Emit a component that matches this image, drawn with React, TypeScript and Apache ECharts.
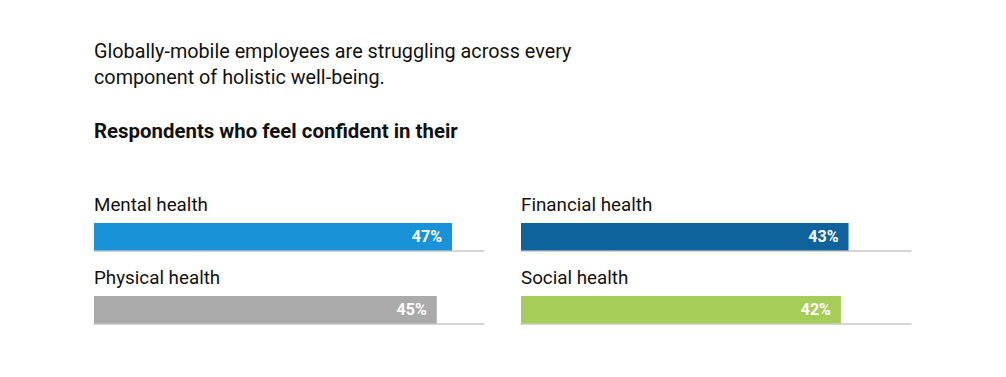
import React, { useEffect, useRef } from "react";
import * as echarts from "echarts";

const categories = ["Mental health", "Financial health", "Physical health", "Social health"];
const values = [47, 43, 45, 42];
const colors = ["#1992d8", "#0f639d", "#aaaaaa", "#a7cd59"];
const axisMax = 51.2;
const titleLines = [
  "Globally-mobile employees are struggling across every",
  "component of holistic well-being.",
];
const subtitle = "Respondents who feel confident in their";

const FONT = "Roboto, 'Noto Sans', sans-serif";

export default function App() {
  const ref = useRef<HTMLDivElement>(null);
  useEffect(() => {
    if (!ref.current) return;
    const chart = echarts.init(ref.current, null, { renderer: "svg" });
    const cells = [
      { left: 94, top: 223 },
      { left: 521, top: 223 },
      { left: 94, top: 296 },
      { left: 521, top: 296 },
    ];
    const grids = cells.map((c) => ({ left: c.left, top: c.top, width: 390, height: 27.5 }));
    const xAxes = cells.map((_, i) => ({
      type: "value",
      gridIndex: i,
      min: 0,
      max: axisMax,
      axisLine: { show: true, lineStyle: { color: "#c8c8c8", width: 1.5 } },
      axisTick: { show: false },
      axisLabel: { show: false },
      splitLine: { show: false },
    }));
    const yAxes = cells.map((_, i) => ({
      type: "category",
      gridIndex: i,
      data: [categories[i]],
      axisLine: { show: false },
      axisTick: { show: false },
      axisLabel: { show: false },
    }));
    const series = cells.map((_, i) => ({
      type: "bar",
      xAxisIndex: i,
      yAxisIndex: i,
      barWidth: "100%",
      data: [values[i]],
      itemStyle: { color: colors[i] },
      label: {
        show: true,
        position: "insideRight",
        distance: 10,
        formatter: (p: any) => `${p.value}%`,
        color: "#ffffff",
        fontFamily: FONT,
        fontWeight: "bold",
        fontSize: 16,
      },
    }));
    const graphic: any[] = [
      ...titleLines.map((t, i) => ({
        type: "text",
        left: 94,
        top: 41 + i * 26,
        style: { text: t, fontFamily: FONT, fontSize: 19.8, fill: "#111111" },
      })),
      {
        type: "text",
        left: 94,
        top: 121,
        style: { text: subtitle, fontFamily: FONT, fontSize: 20.4, fontWeight: "bold", fill: "#111111" },
      },
      ...cells.map((c, i) => ({
        type: "text",
        left: c.left,
        top: c.top - 28,
        style: { text: categories[i], fontFamily: FONT, fontSize: 18.8, fill: "#111111" },
      })),
    ];
    chart.setOption({
      animation: false,
      backgroundColor: "#ffffff",
      grid: grids,
      xAxis: xAxes,
      yAxis: yAxes,
      series,
      graphic,
    });
    return () => chart.dispose();
  }, []);
  return (
    <div
      ref={ref}
      style={{ position: "fixed", left: 0, top: 0, width: 1006, height: 377, background: "#fff" }}
    />
  );
}
